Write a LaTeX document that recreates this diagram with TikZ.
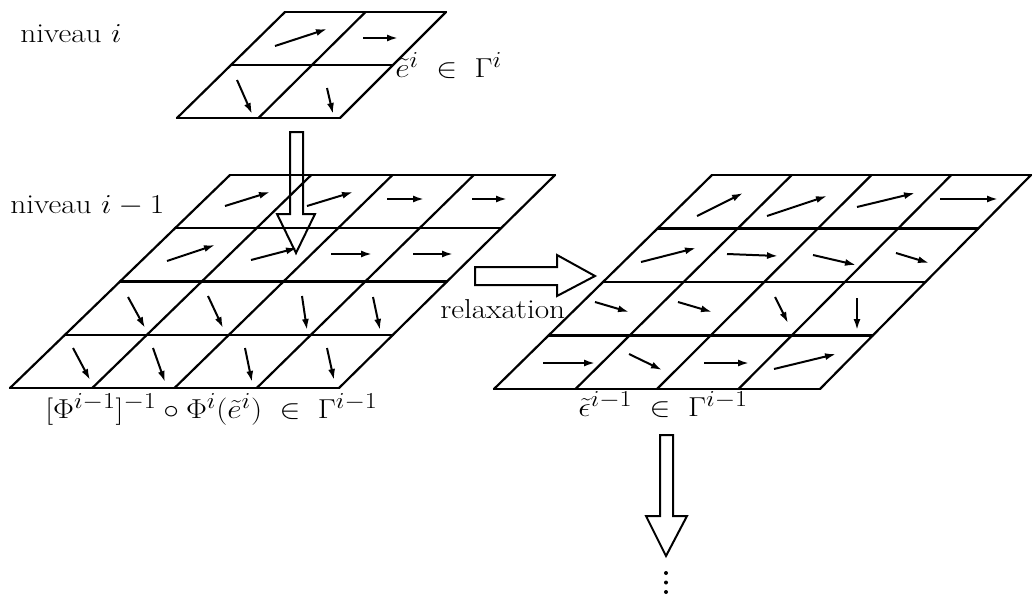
\documentclass[tikz,border=0pt]{standalone}
\usetikzlibrary{arrows.meta,calc}
\tikzset{
  gridline/.style={line width=2.2pt, line cap=round},
  vec/.style={line width=2pt, -{Latex[length=11pt,width=7pt]}},
  hollow/.style={line width=2pt, line join=miter},
  lbl/.style={anchor=base west, inner sep=0pt, font=\Huge, xscale=1.26, yscale=1.1, transform shape},
  dot/.style={fill=black, draw=none},
}
\newcommand\quadgrid[6]{%
  \foreach \j in {0,...,#6}{
    \draw[gridline] ($(#1)!\j/#6!(#3)$) -- ($(#2)!\j/#6!(#4)$);}
  \foreach \i in {0,...,#5}{
    \draw[gridline] ($(#1)!\i/#5!(#2)$) -- ($(#3)!\i/#5!(#4)$);}
}
\begin{document}
\begin{tikzpicture}[x=1pt,y=-1pt]
\useasboundingbox (0,0) rectangle (1033,597);
% grid corners
\coordinate (tTL) at (285,12);  \coordinate (tTR) at (446,12);
\coordinate (tBL) at (177,118); \coordinate (tBR) at (340,118);
\coordinate (lTL) at (230,175); \coordinate (lTR) at (555,175);
\coordinate (lBL) at (10,388);  \coordinate (lBR) at (339,388);
\coordinate (rTL) at (712,175); \coordinate (rTR) at (1031,175);
\coordinate (rBL) at (494,389); \coordinate (rBR) at (820,389);
\quadgrid{tTL}{tTR}{tBL}{tBR}{2}{2}
\quadgrid{lTL}{lTR}{lBL}{lBR}{4}{4}
\quadgrid{rTL}{rTR}{rBL}{rBR}{4}{4}
% vectors, top grid
\draw[vec] (275,46) -- (327,29);
\draw[vec] (363,38) -- (398,38);
\draw[vec] (237,80) -- (252,114);
\draw[vec] (327,88) -- (333,114);
% vectors, left grid
\draw[vec] (225,206) -- (270,192);
\draw[vec] (307,206) -- (353,192);
\draw[vec] (387,199) -- (424,199);
\draw[vec] (472,199) -- (507,199);
\draw[vec] (167,261) -- (215,245);
\draw[vec] (251,260) -- (297,248);
\draw[vec] (331,254) -- (372,254);
\draw[vec] (413,254) -- (453,254);
\draw[vec] (128,297) -- (145,328);
\draw[vec] (208,296) -- (223,328);
\draw[vec] (302,296) -- (307,330);
\draw[vec] (373,297) -- (380,330);
\draw[vec] (73,348) -- (90,380);
\draw[vec] (153,348) -- (165,382);
\draw[vec] (245,348) -- (252,382);
\draw[vec] (327,348) -- (334,380);
% vectors, right grid
\draw[vec] (697,216) -- (743,193);
\draw[vec] (767,216) -- (827,196);
\draw[vec] (857,207) -- (915,193);
\draw[vec] (940,199) -- (998,199);
\draw[vec] (641,262) -- (696,248);
\draw[vec] (727,254) -- (778,256);
\draw[vec] (813,255) -- (856,265);
\draw[vec] (896,253) -- (929,263);
\draw[vec] (595,302) -- (629,312);
\draw[vec] (678,302) -- (712,312);
\draw[vec] (775,297) -- (788,323);
\draw[vec] (857,298) -- (857,330);
\draw[vec] (543,363) -- (595,363);
\draw[vec] (629,354) -- (662,370);
\draw[vec] (704,363) -- (749,363);
\draw[vec] (774,369) -- (836,354);
% hollow arrows
\draw[hollow] (290,132) -- (303,132) -- (303,214) -- (315,214) -- (296,253) -- (277,214) -- (290,214) -- cycle;
\draw[hollow] (475,267) -- (557,267) -- (557,255) -- (595,276) -- (557,296) -- (557,285) -- (475,285) -- cycle;
\draw[hollow] (660,435) -- (673,435) -- (673,516) -- (687,516) -- (666,556) -- (646,516) -- (660,516) -- cycle;
% continuation dots
\fill[dot] (666,573) circle (2pt);
\fill[dot] (666,582.5) circle (2pt);
\fill[dot] (666,592) circle (2pt);
% labels
\node[lbl] (niv) at (20,42) {niveau $i$};
\node[lbl] (niv1) at (10,213) {niveau $i-1$};
\node[lbl] (relax) at (440,318) {relaxation};
\node[lbl] (etop) at (395,77) {$\tilde{e}^{i}\;\in\;\Gamma^{i}$};
\node[lbl] (eleft) at (45,418) {$[\Phi^{i-1}]^{-1}\circ\Phi^{i}(\tilde{e}^{i})\;\in\;\Gamma^{i-1}$};
\node[lbl] (eright) at (578,416) {$\tilde{\epsilon}^{i-1}\;\in\;\Gamma^{i-1}$};
\end{tikzpicture}
\end{document}
